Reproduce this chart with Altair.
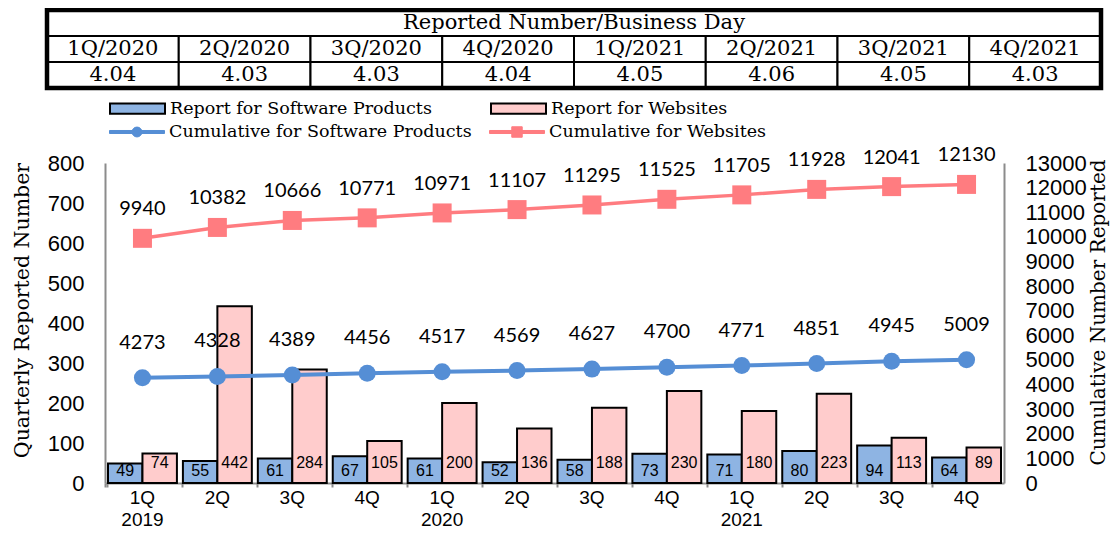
import altair as alt
import pandas as pd

# ---------------- data ----------------
years = ["2019", "2020", "2021"]
quarter_names = ["1Q", "2Q", "3Q", "4Q"]
sw_reports = [49, 55, 61, 67, 61, 52, 58, 73, 71, 80, 94, 64]
web_reports = [74, 442, 284, 105, 200, 136, 188, 230, 180, 223, 113, 89]
sw_cumulative = [4273, 4328, 4389, 4456, 4517, 4569, 4627, 4700, 4771, 4851, 4945, 5009]
web_cumulative = [9940, 10382, 10666, 10771, 10971, 11107, 11295, 11525, 11705, 11928, 12041, 12130]
series_names = ["Report for Software Products", "Report for Websites",
                "Cumulative for Software Products", "Cumulative for Websites"]
table_title = "Reported Number/Business Day"
table_quarters = ["1Q/2020", "2Q/2020", "3Q/2020", "4Q/2020",
                  "1Q/2021", "2Q/2021", "3Q/2021", "4Q/2021"]
table_values = ["4.04", "4.03", "4.03", "4.04", "4.05", "4.06", "4.05", "4.03"]
left_ticks = [0, 100, 200, 300, 400, 500, 600, 700, 800]
right_ticks = [0, 1000, 2000, 3000, 4000, 5000, 6000, 7000, 8000, 9000,
               10000, 11000, 12000, 13000]
left_title = "Quarterly Reported Number"
right_title = "Cumulative Number Reported"

# ---------------- styles ----------------
BAR_BLUE = "#8EB4E3"
BAR_PINK = "#FFCCCC"
LINE_BLUE = "#558ED5"
LINE_PINK = "#FF7C80"
AXIS_GRAY = "#8C8C8C"
SANS = "Liberation Sans"
SERIF = "DejaVu Serif"
NUMFONT = "Lato"

cats = [f"{y} {q}" for y in years for q in quarter_names]
rep_df = pd.DataFrame({
    "cat": cats * 2,
    "series": [series_names[0]] * len(cats) + [series_names[1]] * len(cats),
    "value": sw_reports + web_reports,
})
cum_df = pd.DataFrame({
    "cat": cats * 2,
    "series": [series_names[2]] * len(cats) + [series_names[3]] * len(cats),
    "value": sw_cumulative + web_cumulative,
})

ncol = len(table_quarters)
cell_rows = [dict(c0=0, c1=ncol, r0=0, r1=1, text=table_title)]
for i, (q, v) in enumerate(zip(table_quarters, table_values)):
    cell_rows.append(dict(c0=i, c1=i + 1, r0=1, r1=2, text=q))
    cell_rows.append(dict(c0=i, c1=i + 1, r0=2, r1=3, text=v))
cell_df = pd.DataFrame(cell_rows)
border_df = pd.DataFrame([dict(c0=0, c1=ncol, r0=0, r1=3)])

# ---------------- encodings ----------------
x_scale = alt.Scale(domain=cats, paddingInner=0.08, paddingOuter=0.04)
label_expr = ("slice(datum.label, 5) == '1Q' ? ['1Q', slice(datum.label, 0, 4)] "
              ": slice(datum.label, 5)")
x_axis = alt.Axis(title=None, labelExpr=label_expr, labelFont=SANS, labelFontSize=19,
                  labelColor="black", labelAngle=0, labelPadding=1, labelLineHeight=22,
                  labelBaseline="top", ticks=True, tickSize=4, tickColor=AXIS_GRAY,
                  tickWidth=2, bandPosition=0, tickExtra=True, domainColor=AXIS_GRAY,
                  domainWidth=2, grid=False, orient="bottom")
x_main = alt.X("cat:N", sort=cats, scale=x_scale, axis=x_axis)
x_plain = alt.X("cat:N", sort=cats, scale=x_scale, axis=None)
off_scale = alt.Scale(domain=series_names[:2], paddingInner=0, paddingOuter=0)
x_off = alt.XOffset("series:N", sort=series_names[:2], scale=off_scale)

left_scale = alt.Scale(domain=[0, 800], nice=False, zero=True)
right_scale = alt.Scale(domain=[0, 13000], nice=False, zero=True)
left_axis = alt.Axis(title=left_title, orient="left", values=left_ticks, labelFont=SANS,
                     labelFontSize=22, labelColor="black", labelPadding=21, ticks=False,
                     tickSize=0, domainColor=AXIS_GRAY, domainWidth=2, grid=False,
                     labelOverlap=False, titleFont=SERIF, titleFontSize=20.5,
                     titleFontWeight="normal", titleColor="black", titlePadding=15,
                     titleY=147)
right_axis = alt.Axis(title=right_title, orient="right", values=right_ticks, format="d",
                      labelFont=SANS, labelFontSize=22, labelColor="black", labelPadding=21,
                      ticks=False, tickSize=0, domainColor=AXIS_GRAY, domainWidth=2,
                      grid=False, labelOverlap=False, titleFont=SERIF, titleFontSize=20,
                      titleFontWeight="normal", titleColor="black", titlePadding=2,
                      titleAngle=270, titleBaseline="top", titleY=149)

RECT_PATH = "M-1,-0.19H1V0.19H-1Z"
LINE_CIRCLE_PATH = ("M-1,-0.055H1V0.055H-1Z "
                    "M-0.18,0A0.18,0.18 0 1,1 0.18,0A0.18,0.18 0 1,1 -0.18,0Z")
LINE_SQUARE_PATH = "M-1,-0.055H1V0.055H-1Z M-0.19,-0.19H0.19V0.19H-0.19Z"

leg_common = dict(title=None, orient="none", padding=0, labelFont=SERIF, labelFontSize=17.5,
                  labelColor="black", labelOffset=4, symbolSize=3025, labelLimit=600,
                  symbolOpacity=1)
bar_legend = alt.Legend(**leg_common, legendX=4, legendY=-83, direction="horizontal",
                        columns=2, columnPadding=55, symbolType=RECT_PATH,
                        symbolStrokeColor="black", symbolStrokeWidth=2)
sw_legend = alt.Legend(**leg_common, legendX=4, legendY=-59, symbolType=LINE_CIRCLE_PATH,
                       symbolFillColor=LINE_BLUE, symbolStrokeWidth=1)
web_legend = alt.Legend(**leg_common, legendX=384, legendY=-59,
                        symbolType=LINE_SQUARE_PATH, symbolFillColor=LINE_PINK,
                        symbolStrokeWidth=1)

# ---------------- bars ----------------
bars = alt.Chart(rep_df).mark_bar().encode(
    x=x_main,
    xOffset=x_off,
    y=alt.Y("value:Q", scale=left_scale, axis=left_axis),
    fill=alt.Fill("series:N", scale=alt.Scale(domain=series_names[:2],
                                              range=[BAR_BLUE, BAR_PINK]),
                  legend=bar_legend),
    stroke=alt.value("black"),
    strokeWidth=alt.value(2),
)


def bar_labels(name, dy):
    return alt.Chart(rep_df).transform_filter(alt.datum.series == name).mark_text(
        font=SANS, fontSize=16, color="black", baseline="middle", align="center", dy=dy
    ).encode(
        x=x_plain,
        xOffset=x_off,
        y=alt.Y(datum=0, scale=left_scale, axis=None),
        text=alt.Text("value:Q"),
    )


# ---------------- cumulative lines ----------------
sw_base = alt.Chart(cum_df).transform_filter(alt.datum.series == series_names[2])
web_base = alt.Chart(cum_df).transform_filter(alt.datum.series == series_names[3])

sw_line = sw_base.mark_line().encode(
    x=x_plain,
    y=alt.Y("value:Q", scale=right_scale, axis=right_axis),
    stroke=alt.Stroke("series:N", scale=alt.Scale(domain=[series_names[2]], range=[LINE_BLUE]),
                      legend=sw_legend),
    strokeWidth=alt.value(4),
)
web_line = web_base.mark_line().encode(
    x=x_plain,
    y=alt.Y("value:Q", scale=right_scale, axis=None),
    color=alt.Color("series:N", scale=alt.Scale(domain=[series_names[3]], range=[LINE_PINK]),
                    legend=web_legend),
    strokeWidth=alt.value(3.5),
)
sw_pts = sw_base.mark_point(shape="circle", filled=True, size=290, opacity=1,
                            color=LINE_BLUE).encode(
    x=x_plain, y=alt.Y("value:Q", scale=right_scale, axis=None))
web_pts = web_base.mark_point(shape="square", filled=True, size=361, opacity=1,
                              color=LINE_PINK).encode(
    x=x_plain, y=alt.Y("value:Q", scale=right_scale, axis=None))
sw_txt = sw_base.mark_text(font=NUMFONT, fontSize=20, color="black", baseline="middle",
                           dy=-35).encode(
    x=x_plain, y=alt.Y("value:Q", scale=right_scale, axis=None), text="value:Q")
web_txt = web_base.mark_text(font=NUMFONT, fontSize=20, color="black", baseline="middle",
                             dy=-29).encode(
    x=x_plain, y=alt.Y("value:Q", scale=right_scale, axis=None), text="value:Q")

# ---------------- table above the plot ----------------
tx = alt.Scale(domain=[0, ncol], range=[-58, 996], nice=False, zero=False)
ty = alt.Scale(domain=[0, 3], range=[-153, -75], nice=False, zero=False)

cells = alt.Chart(cell_df).mark_rect(fill="white", stroke="black", strokeWidth=2).encode(
    x=alt.X("c0:Q", scale=tx, axis=None), x2="c1:Q",
    y=alt.Y("r0:Q", scale=ty, axis=None), y2="r1:Q",
)
border = alt.Chart(border_df).mark_rect(fill="white", fillOpacity=0, stroke="black",
                                        strokeWidth=4.5).encode(
    x=alt.X("c0:Q", scale=tx, axis=None), x2="c1:Q",
    y=alt.Y("r0:Q", scale=ty, axis=None), y2="r1:Q",
)
cell_text = alt.Chart(cell_df).transform_calculate(
    cx="(datum.c0 + datum.c1) / 2", cy="(datum.r0 + datum.r1) / 2"
).mark_text(font=SERIF, fontSize=21, color="black", baseline="middle", align="center").encode(
    x=alt.X("cx:Q", scale=tx, axis=None),
    y=alt.Y("cy:Q", scale=ty, axis=None),
    text="text:N",
)

chart = alt.layer(
    cells, border, cell_text,
    bars, bar_labels(series_names[0], -12), bar_labels(series_names[1], -20),
    web_line, sw_line, web_pts, sw_pts, web_txt, sw_txt,
).resolve_scale(x="independent", y="independent").properties(
    width=899,
    height=320,
    padding={"left": 97, "top": 155, "right": 108, "bottom": 47},
    autosize=alt.AutoSizeParams(type="none"),
    background="white",
).configure_view(strokeWidth=0)

chart.save("out.html", embed_options={"renderer": "svg", "actions": False})
